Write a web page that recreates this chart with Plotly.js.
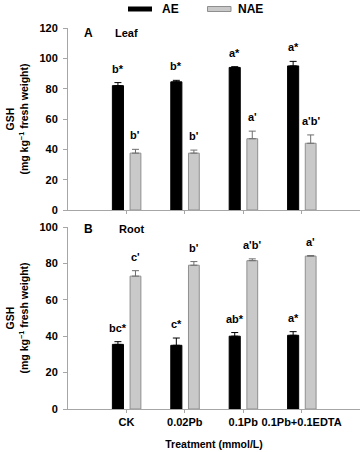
<!DOCTYPE html>
<html>
<head>
<meta charset="utf-8">
<script src="https://cdn.plot.ly/plotly-3.0.1.min.js"></script>
<style>html,body{margin:0;padding:0;background:#fff}#chart{width:360px;height:452px}</style>
</head>
<body>
<div id="chart"></div>
<script>
// ---- data ----
const categories = ["CK", "0.02Pb", "0.1Pb", "0.1Pb+0.1EDTA"];

const leafAE = [82, 84.5, 94, 95];
const leafAEerr = [2, 1, 0.5, 3];
const leafNAE = [37.5, 37.5, 47, 44];
const leafNAEerr = [2.5, 2, 5, 5.5];
const leafAEletters = ["b*", "b*", "a*", "a*"];
const leafNAEletters = ["b'", "b'", "a'", "a'b'"];

const rootAE = [35.5, 35, 40, 40.5];
const rootAEerr = [1.5, 4, 2, 2];
const rootNAE = [73, 79, 81.5, 84];
const rootNAEerr = [3, 2, 1, 0.3];
const rootAEletters = ["bc*", "c*", "ab*", "a*"];
const rootNAEletters = ["c'", "b'", "a'b'", "a'"];

const leafTicks = [0, 20, 40, 60, 80, 100, 120];
const rootTicks = [0, 20, 40, 60, 80, 100];

// ---- styling ----
const FONT = "Liberation Sans, Arial, sans-serif";
const BLACK = "#000000";
const GREY = "#c9c9c9";
const GREY_LINE = "#8f8f8f";
const AXIS = "#a6a6a6";
const W_AE = 0.19, OFF_AE = -0.24;
const W_NAE = 0.185, OFF_NAE = 0.063;

function barTrace(name, y, err, color, lineColor, errColor, off, w, xa, ya) {
  return {
    type: "bar", name: name, x: categories, y: y,
    xaxis: xa, yaxis: ya, offset: off, width: w,
    marker: {color: color, line: {color: lineColor, width: 1}},
    error_y: {type: "data", symmetric: false, array: err, arrayminus: err.map(() => 0),
              color: errColor, thickness: 1, width: 3.5},
    showlegend: false, hoverinfo: "skip"
  };
}

const traces = [
  barTrace("AE", leafAE, leafAEerr, BLACK, BLACK, BLACK, OFF_AE, W_AE, "x", "y"),
  barTrace("NAE", leafNAE, leafNAEerr, GREY, GREY_LINE, "#6e6e6e", OFF_NAE, W_NAE, "x", "y"),
  barTrace("AE", rootAE, rootAEerr, BLACK, BLACK, BLACK, OFF_AE, W_AE, "x2", "y2"),
  barTrace("NAE", rootNAE, rootNAEerr, GREY, GREY_LINE, "#6e6e6e", OFF_NAE, W_NAE, "x2", "y2")
];

const annotations = [];
function letters(vals, errs, labs, off, w, xa, ya) {
  vals.forEach((v, i) => {
    annotations.push({
      xref: xa, yref: ya, x: i + off + w / 2, y: v + errs[i],
      text: labs[i], showarrow: false, xanchor: "center", yanchor: "middle", yshift: 14,
      font: {family: FONT, size: 11, color: "#000"}
    });
  });
}
letters(leafAE, leafAEerr, leafAEletters, OFF_AE, W_AE, "x", "y");
letters(leafNAE, leafNAEerr, leafNAEletters, OFF_NAE, W_NAE, "x", "y");
letters(rootAE, rootAEerr, rootAEletters, OFF_AE, W_AE, "x2", "y2");
letters(rootNAE, rootNAEerr, rootNAEletters, OFF_NAE, W_NAE, "x2", "y2");

// plot geometry
const L = 68, T = 28, B = 43, H = 452, PW = 292, PH = H - T - B;
const px2x = px => (px - L) / PW;
const py2y = py => (H - B - py) / PH;

const yTitle = "GSH<br>(mg kg<sup>−1</sup> fresh weight)";
[[0.761], [0.2388]].forEach(([yc]) => {
  annotations.push({xref: "paper", yref: "paper", x: px2x(17.5), y: yc, text: yTitle,
    textangle: -90, showarrow: false, xanchor: "center", yanchor: "middle",
    font: {family: FONT, size: 10.5, color: "#000"}});
});
const panelFont = {family: FONT, size: 11, color: "#000"};
annotations.push({xref: "paper", yref: "paper", x: px2x(88), y: py2y(33), text: "<b>A</b>", showarrow: false, xanchor: "center", yanchor: "middle", font: {family: FONT, size: 12, color: "#000"}});
annotations.push({xref: "paper", yref: "paper", x: px2x(113), y: py2y(33), text: "Leaf", showarrow: false, xanchor: "left", yanchor: "middle", font: panelFont});
annotations.push({xref: "paper", yref: "paper", x: px2x(88), y: py2y(229), text: "<b>B</b>", showarrow: false, xanchor: "center", yanchor: "middle", font: {family: FONT, size: 12, color: "#000"}});
annotations.push({xref: "paper", yref: "paper", x: px2x(117), y: py2y(229), text: "Root", showarrow: false, xanchor: "left", yanchor: "middle", font: panelFont});
// legend texts
annotations.push({xref: "paper", yref: "paper", x: px2x(160), y: py2y(9), text: "AE", showarrow: false, xanchor: "left", yanchor: "middle", font: {family: FONT, size: 12, color: "#000"}});
annotations.push({xref: "paper", yref: "paper", x: px2x(236), y: py2y(9), text: "NAE", showarrow: false, xanchor: "left", yanchor: "middle", font: {family: FONT, size: 12, color: "#000"}});

const shapes = [
  {type: "rect", xref: "paper", yref: "paper", x0: px2x(128), x1: px2x(152), y0: py2y(11.5), y1: py2y(6.5), fillcolor: BLACK, line: {width: 0}},
  {type: "rect", xref: "paper", yref: "paper", x0: px2x(207.5), x1: px2x(231), y0: py2y(11.5), y1: py2y(6.5), fillcolor: GREY, line: {color: GREY_LINE, width: 1}}
];

const tickFont = {family: FONT, size: 11, color: "#000"};
function yAxis(domain, ticks, range) {
  return {domain: domain, range: range, tickvals: ticks, ticktext: ticks.map(String),
    showgrid: false, zeroline: false, showline: true, linecolor: AXIS, linewidth: 1,
    ticks: "outside", ticklen: 4, tickcolor: AXIS, tickfont: tickFont, ticklabelstandoff: 3, fixedrange: true};
}
function xAxis(anchor, showLabels) {
  return {anchor: anchor, type: "category", range: [-1, 4.0], categoryorder: "array", categoryarray: categories,
    showgrid: false, zeroline: false, showline: true, linecolor: AXIS, linewidth: 1,
    ticks: "outside", ticklen: 3, tickcolor: AXIS, showticklabels: showLabels, tickfont: tickFont, tickangle: 0, fixedrange: true};
}

const layout = {
  width: 360, height: 452,
  margin: {l: L, r: 0, t: T, b: B, pad: 0},
  paper_bgcolor: "#fff", plot_bgcolor: "#fff",
  font: {family: FONT, color: "#000", weight: "bold"},
  xaxis: xAxis("y", false),
  yaxis: yAxis([py2y(210), 1], leafTicks, [0, 120]),
  xaxis2: Object.assign(xAxis("y2", true), {title: {text: "Treatment (mmol/L)", font: {family: FONT, size: 10.5, color: "#000", weight: "bold"}, standoff: 13}}),
  yaxis2: yAxis([0, py2y(227)], rootTicks, [0, 100]),
  annotations: annotations,
  shapes: shapes,
  showlegend: false,
  barmode: "overlay"
};

Plotly.newPlot("chart", traces, layout, {displayModeBar: false, staticPlot: true});
</script>
</body>
</html>
